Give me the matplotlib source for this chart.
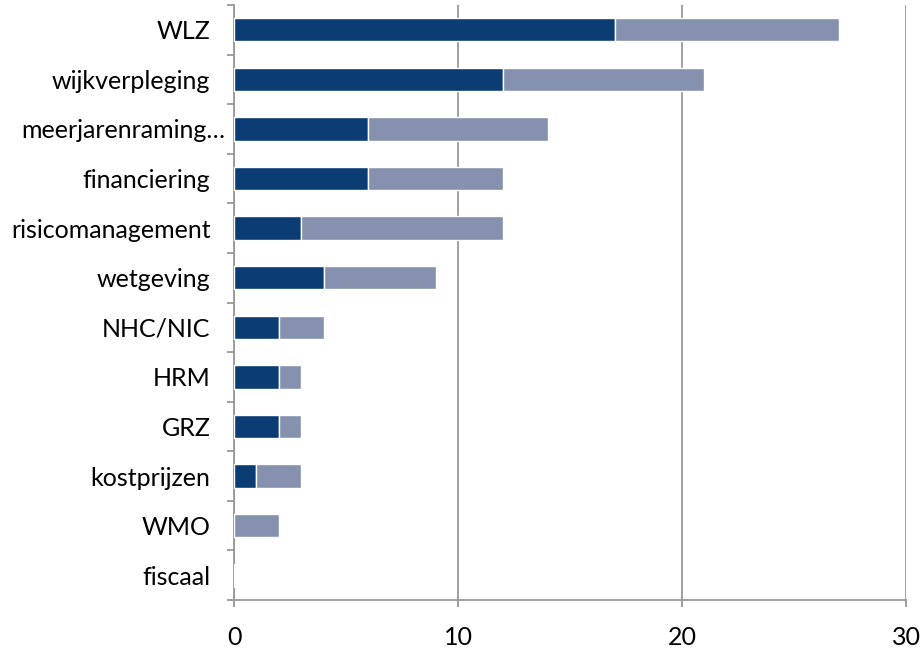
import matplotlib
matplotlib.use("Agg")
import matplotlib.pyplot as plt
import matplotlib.transforms as mtransforms
import numpy as np

categories = ["WLZ", "wijkverpleging", "meerjarenraming…", "financiering", "risicomanagement",
              "wetgeving", "NHC/NIC", "HRM", "GRZ", "kostprijzen", "WMO", "fiscaal"]
series_dark = [17, 12, 6, 6, 3, 4, 2, 2, 2, 1, 0, 0]
series_light = [10, 9, 8, 6, 9, 5, 2, 1, 1, 2, 2, 0]
x_ticks = [0, 10, 20, 30]

plt.rcParams['font.family'] = ['Lato', 'DejaVu Sans']

fig = plt.figure(figsize=(9.23, 6.49), dpi=100)
ax = fig.add_axes([234/923, 1-600/649, (906-234)/923, (600-5)/649])

n = len(categories)
y = np.arange(n)
h = 0.47
dark = "#0B3C73"
light = "#8591AE"
ax.barh(y, series_dark, height=h, color=dark, edgecolor="white", linewidth=1.0, zorder=3)
ax.barh(y, series_light, left=series_dark, height=h, color=light, edgecolor="white", linewidth=1.0, zorder=3)

ax.set_xlim(0, 30)
ax.set_ylim(n - 0.5, -0.5)
ax.set_xticks(x_ticks)
ax.set_xticklabels([str(t) for t in x_ticks], fontsize=18)
ax.set_yticks(y)
ax.set_yticklabels(categories, fontsize=18)
ax.set_yticks(np.arange(n + 1) - 0.5, minor=True)
ax.tick_params(axis='y', which='major', length=0, pad=17)
ax.tick_params(axis='y', which='minor', length=5, width=1.3, color="#999999")
ax.tick_params(axis='x', which='major', length=5, width=1.3, color="#999999", pad=14)

# the truncated label sits a little further right (closer to the axis)
for lab in ax.get_yticklabels():
    if lab.get_text().endswith("…"):
        lab.set_transform(lab.get_transform() + mtransforms.ScaledTranslation(15/100, 0, fig.dpi_scale_trans))

ax.grid(axis='x', color="#999999", linewidth=1.3, zorder=0)
for s in ["top", "right"]:
    ax.spines[s].set_visible(False)
for s in ["left", "bottom"]:
    ax.spines[s].set_color("#999999")
    ax.spines[s].set_linewidth(1.3)

fig.savefig("out.png", dpi=100)
